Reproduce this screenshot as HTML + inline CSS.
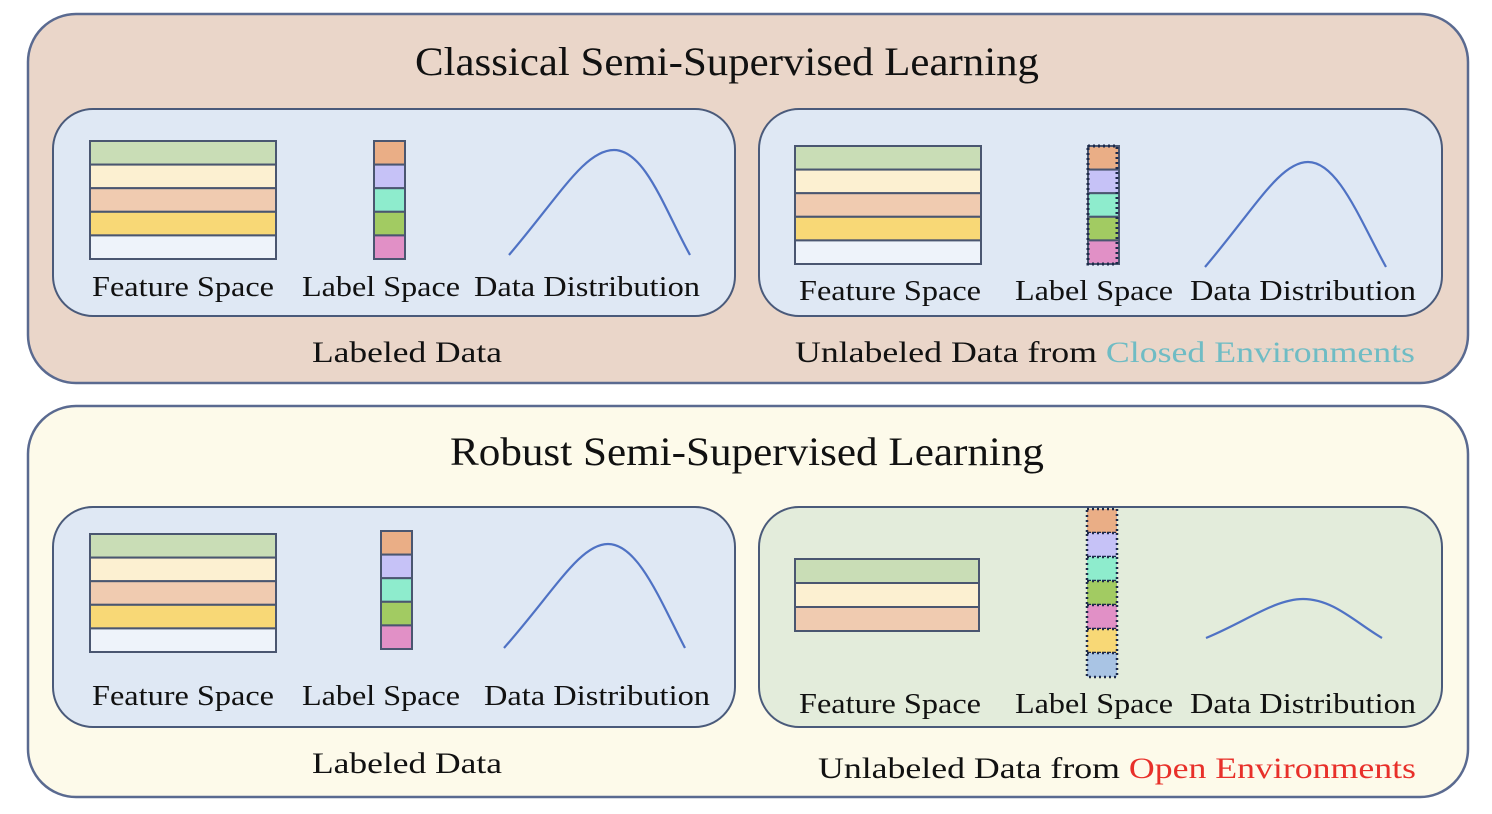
<!DOCTYPE html>
<html><head><meta charset="utf-8"><style>
html,body{margin:0;padding:0;background:#fff;}
svg{display:block;}
text{font-family:"Liberation Serif",serif;fill:#111;}
.t{font-size:40px;}
.l{font-size:28px;}
.c{font-size:30px;}
</style></head><body>
<svg width="1492" height="814" viewBox="0 0 1492 814" xmlns="http://www.w3.org/2000/svg">
<defs>
<g id="fs5">
<rect x="0" y="0" width="186" height="23.6" fill="#c9ddb6" stroke="#4a5670" stroke-width="2"/>
<rect x="0" y="23.6" width="186" height="23.6" fill="#fcf0d1" stroke="#4a5670" stroke-width="2"/>
<rect x="0" y="47.2" width="186" height="23.6" fill="#f0cbb0" stroke="#4a5670" stroke-width="2"/>
<rect x="0" y="70.8" width="186" height="23.6" fill="#f8d876" stroke="#4a5670" stroke-width="2"/>
<rect x="0" y="94.4" width="186" height="23.6" fill="#eef3fa" stroke="#4a5670" stroke-width="2"/>
</g>
<g id="ls5">
<rect x="0" y="0" width="31" height="23.6" fill="#eaae86" stroke="#4a5670" stroke-width="2"/>
<rect x="0" y="23.6" width="31" height="23.6" fill="#c6c2f7" stroke="#4a5670" stroke-width="2"/>
<rect x="0" y="47.2" width="31" height="23.6" fill="#8eeccd" stroke="#4a5670" stroke-width="2"/>
<rect x="0" y="70.8" width="31" height="23.6" fill="#a2cb62" stroke="#4a5670" stroke-width="2"/>
<rect x="0" y="94.4" width="31" height="23.6" fill="#e190c6" stroke="#4a5670" stroke-width="2"/>
</g>
</defs>
<!-- outer boxes -->
<rect x="28" y="14" width="1440" height="369" rx="48" fill="#ead6c9" stroke="#5a6a90" stroke-width="2.5"/>
<rect x="28" y="406" width="1440" height="391" rx="48" fill="#fdfaea" stroke="#5a6a90" stroke-width="2.5"/>
<text class="t" x="727" y="75" text-anchor="middle" textLength="624" lengthAdjust="spacingAndGlyphs">Classical Semi-Supervised Learning</text>
<text class="t" x="747" y="465" text-anchor="middle" textLength="594" lengthAdjust="spacingAndGlyphs">Robust Semi-Supervised Learning</text>
<!-- inner boxes -->
<rect x="53" y="109" width="682" height="207" rx="40" fill="#dfe8f4" stroke="#4a5a7a" stroke-width="2"/>
<rect x="759" y="109" width="683" height="207" rx="40" fill="#dfe8f4" stroke="#4a5a7a" stroke-width="2"/>
<rect x="53" y="507" width="682" height="220" rx="40" fill="#dfe8f4" stroke="#4a5a7a" stroke-width="2"/>
<rect x="759" y="507" width="683" height="220" rx="40" fill="#e3ecdb" stroke="#4a5a7a" stroke-width="2"/>
<!-- top left -->
<use href="#fs5" x="90" y="141"/>
<use href="#ls5" x="374" y="141"/>
<path d="M509 255 C560 195 585 150 614 150 C645 150 665 210 690 255" fill="none" stroke="#4f72c4" stroke-width="2.2"/>
<text class="l" x="183" y="296" text-anchor="middle" textLength="182" lengthAdjust="spacingAndGlyphs">Feature Space</text>
<text class="l" x="381" y="296" text-anchor="middle" textLength="158" lengthAdjust="spacingAndGlyphs">Label Space</text>
<text class="l" x="587" y="296" text-anchor="middle" textLength="226" lengthAdjust="spacingAndGlyphs">Data Distribution</text>
<text class="c" x="407" y="362" text-anchor="middle" textLength="190" lengthAdjust="spacingAndGlyphs">Labeled Data</text>
<!-- top right -->
<use href="#fs5" x="795" y="146"/>
<g transform="translate(1088,146)">
<use href="#ls5" x="0" y="0"/>
<rect x="0" y="0" width="29" height="118" fill="none" stroke="#1e2a4a" stroke-width="3" stroke-dasharray="2 3"/>
</g>
<path d="M1205 267 C1255 208 1280 162 1308 162 C1338 162 1360 220 1386 267" fill="none" stroke="#4f72c4" stroke-width="2.2"/>
<text class="l" x="890" y="300" text-anchor="middle" textLength="182" lengthAdjust="spacingAndGlyphs">Feature Space</text>
<text class="l" x="1094" y="300" text-anchor="middle" textLength="158" lengthAdjust="spacingAndGlyphs">Label Space</text>
<text class="l" x="1303" y="300" text-anchor="middle" textLength="226" lengthAdjust="spacingAndGlyphs">Data Distribution</text>
<text class="c" x="795" y="362" textLength="620" lengthAdjust="spacingAndGlyphs">Unlabeled Data from <tspan fill="#6fbcc4">Closed Environments</tspan></text>
<!-- bottom left -->
<use href="#fs5" x="90" y="534"/>
<use href="#ls5" x="381" y="531"/>
<path d="M504 648 C555 590 580 544 608 544 C638 544 660 600 685 648" fill="none" stroke="#4f72c4" stroke-width="2.2"/>
<text class="l" x="183" y="705" text-anchor="middle" textLength="182" lengthAdjust="spacingAndGlyphs">Feature Space</text>
<text class="l" x="381" y="705" text-anchor="middle" textLength="158" lengthAdjust="spacingAndGlyphs">Label Space</text>
<text class="l" x="597" y="705" text-anchor="middle" textLength="226" lengthAdjust="spacingAndGlyphs">Data Distribution</text>
<text class="c" x="407" y="773" text-anchor="middle" textLength="190" lengthAdjust="spacingAndGlyphs">Labeled Data</text>
<!-- bottom right -->
<g transform="translate(795,559)">
<rect x="0" y="0" width="184" height="24" fill="#c9ddb6" stroke="#4a5670" stroke-width="2"/>
<rect x="0" y="24" width="184" height="24" fill="#fcf0d1" stroke="#4a5670" stroke-width="2"/>
<rect x="0" y="48" width="184" height="24" fill="#f0cbb0" stroke="#4a5670" stroke-width="2"/>
</g>
<g transform="translate(1087,509)" stroke="#1e2a4a" stroke-width="2.5" stroke-dasharray="2 3">
<rect x="0" y="0" width="30" height="24" fill="#eaae86"/>
<rect x="0" y="24" width="30" height="24" fill="#c6c2f7"/>
<rect x="0" y="48" width="30" height="24" fill="#8eeccd"/>
<rect x="0" y="72" width="30" height="24" fill="#a2cb62"/>
<rect x="0" y="96" width="30" height="24" fill="#e190c6"/>
<rect x="0" y="120" width="30" height="24" fill="#f8d876"/>
<rect x="0" y="144" width="30" height="24" fill="#a9c4e4"/>
</g>
<path d="M1206 638 C1245 622 1275 599 1303 599 C1333 599 1355 622 1382 638" fill="none" stroke="#4f72c4" stroke-width="2.2"/>
<text class="l" x="890" y="713" text-anchor="middle" textLength="182" lengthAdjust="spacingAndGlyphs">Feature Space</text>
<text class="l" x="1094" y="713" text-anchor="middle" textLength="158" lengthAdjust="spacingAndGlyphs">Label Space</text>
<text class="l" x="1303" y="713" text-anchor="middle" textLength="226" lengthAdjust="spacingAndGlyphs">Data Distribution</text>
<text class="c" x="818" y="778" textLength="598" lengthAdjust="spacingAndGlyphs">Unlabeled Data from <tspan fill="#e8302a">Open Environments</tspan></text>
</svg>
</body></html>
